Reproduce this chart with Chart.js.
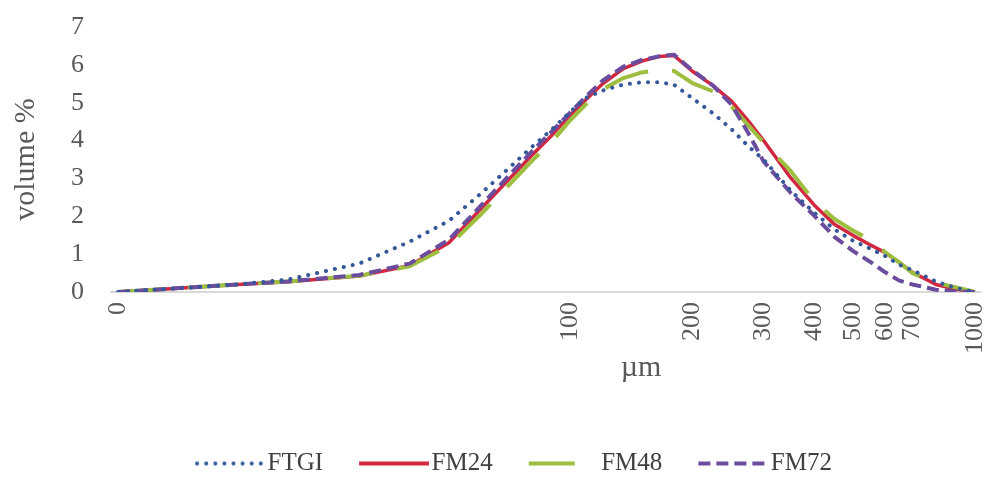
<!DOCTYPE html>
<html>
<head>
<meta charset="utf-8">
<script src="https://cdn.jsdelivr.net/npm/chart.js@4.4.1/dist/chart.umd.min.js"></script>
<style>
html, body { margin: 0; padding: 0; background: #fff; }
</style>
</head>
<body>
<canvas id="chart" width="989" height="479"></canvas>
<script>
// particle size classes (µm), log axis
const sizes = [7.6, 10, 15, 20, 30, 40, 50, 60, 70, 80, 90, 100, 110, 120, 135, 150, 165, 180, 200, 225, 250, 275, 300, 350, 400, 450, 500, 550, 600, 650, 700, 800, 900, 1000];

// volume % per class
const ftgi = [0, 0.08, 0.2, 0.33, 0.75, 1.33, 1.88, 2.6, 3.25, 3.82, 4.3, 4.77, 5.15, 5.32, 5.48, 5.54, 5.54, 5.48, 5.12, 4.72, 4.3, 3.85, 3.5, 2.68, 2.1, 1.65, 1.35, 1.15, 0.95, 0.72, 0.58, 0.28, 0.1, 0];
const fm24 = [0, 0.08, 0.2, 0.27, 0.42, 0.7, 1.3, 2.2, 2.95, 3.6, 4.15, 4.68, 5.12, 5.5, 5.9, 6.1, 6.22, 6.25, 5.83, 5.45, 5.04, 4.52, 4.0, 3.02, 2.3, 1.78, 1.49, 1.25, 1.04, 0.78, 0.52, 0.2, 0.07, 0];
const fm48 = [0, 0.08, 0.2, 0.28, 0.43, 0.68, 1.22, 2.05, 2.8, 3.45, 3.98, 4.55, 5.0, 5.35, 5.65, 5.8, 5.86, 5.84, 5.52, 5.3, 4.9, 4.4, 3.95, 3.2, 2.4, 1.92, 1.62, 1.38, 1.05, 0.78, 0.5, 0.25, 0.12, 0];
const fm72 = [0, 0.08, 0.2, 0.28, 0.45, 0.75, 1.38, 2.28, 3.05, 3.7, 4.25, 4.75, 5.2, 5.58, 5.95, 6.13, 6.22, 6.27, 5.86, 5.45, 4.95, 4.2, 3.45, 2.62, 2.02, 1.45, 1.08, 0.8, 0.52, 0.3, 0.2, 0.06, 0.01, 0];

const tickValues = [7.6, 100, 200, 300, 400, 500, 600, 700, 1000];
const tickLabels = ['0', '100', '200', '300', '400', '500', '600', '700', '1000'];

function points(vals) {
    return sizes.map((s, i) => ({ x: s, y: vals[i] }));
}

// little canvas used as the legend symbol, so the dash pattern shows
function legendSymbol(color, width, dash, cap) {
    const c = document.createElement('canvas');
    c.width = 110;
    c.height = 10;
    const g = c.getContext('2d');
    g.strokeStyle = color;
    g.lineWidth = width;
    g.lineCap = cap;
    g.setLineDash(dash);
    g.beginPath();
    g.moveTo(cap === 'round' ? 42 : 40, 5);
    g.lineTo(cap === 'round' ? 108 : 110, 5);
    g.stroke();
    return c;
}

const grey = '#595959';
const serif = '"Liberation Serif", "Times New Roman", serif';

// x title sits right of centre in the original, so draw it by hand
const xTitle = {
    id: 'xTitle',
    afterDraw(chart) {
        const ctx = chart.ctx;
        const a = chart.chartArea;
        ctx.save();
        ctx.font = '30px ' + serif;
        ctx.fillStyle = grey;
        ctx.textAlign = 'center';
        ctx.textBaseline = 'middle';
        ctx.fillText('µm', a.left + (a.right - a.left) * 0.61, a.bottom + 76);
        ctx.restore();
    }
};

new Chart(document.getElementById('chart'), {
    type: 'line',
    data: {
        datasets: [
            {
                label: 'FTGI',
                data: points(ftgi),
                borderColor: '#34589A',
                borderWidth: 4,
                borderDash: [0.1, 9],
                borderCapStyle: 'round',
                pointStyle: legendSymbol('#34589A', 4, [0.1, 9], 'round'),
                order: 0
            },
            {
                label: 'FM24',
                data: points(fm24),
                borderColor: '#D1283F',
                borderWidth: 3.5,
                pointStyle: legendSymbol('#D1283F', 4, [], 'butt'),
                order: 3
            },
            {
                label: 'FM48',
                data: points(fm48),
                borderColor: '#9DBE3E',
                borderWidth: 4,
                borderDash: [46, 24],
                pointStyle: legendSymbol('#9DBE3E', 4, [46, 24], 'butt'),
                order: 2
            },
            {
                label: 'FM72',
                data: points(fm72),
                borderColor: '#6B4C9E',
                borderWidth: 4,
                borderDash: [12, 6],
                pointStyle: legendSymbol('#6B4C9E', 4, [12, 6], 'butt'),
                order: 1
            }
        ]
    },
    options: {
        responsive: false,
        animation: false,
        layout: { padding: { left: 8, top: 0, right: 0, bottom: -7 } },
        elements: {
            point: { radius: 0 },
            line: { tension: 0, fill: false, borderJoinStyle: 'round' }
        },
        plugins: {
            tooltip: { enabled: false },
            legend: {
                position: 'bottom',
                labels: {
                    usePointStyle: true,
                    pointStyleWidth: 90,
                    boxHeight: 25,
                    padding: 6,
                    color: '#404040',
                    font: { family: serif, size: 25 },
                    sort: (a, b) => a.datasetIndex - b.datasetIndex
                }
            }
        },
        scales: {
            x: {
                type: 'logarithmic',
                min: 7.3,
                max: 1029,
                afterBuildTicks: scale => {
                    scale.ticks = tickValues.map(v => ({ value: v }));
                },
                afterFit: scale => {
                    scale.paddingLeft = 0;
                    scale.paddingRight = 9;
                },
                grid: { display: false, drawTicks: false },
                border: { display: true, color: '#d9d9d9', width: 2 },
                ticks: {
                    autoSkip: false,
                    minRotation: 90,
                    maxRotation: 90,
                    padding: 10,
                    color: grey,
                    font: { family: serif, size: 26 },
                    callback: (v, i) => tickLabels[i]
                },
                title: {
                    display: true,
                    text: '',
                    font: { family: serif, size: 30 },
                    padding: { top: 0, bottom: 45 }
                }
            },
            y: {
                min: 0,
                max: 7,
                afterFit: scale => {
                    scale.paddingTop = 27;
                    scale.paddingBottom = 0;
                },
                grid: { display: false, drawTicks: false },
                border: { display: false },
                ticks: {
                    stepSize: 1,
                    autoSkip: false,
                    padding: 27,
                    color: grey,
                    font: { family: serif, size: 26 }
                },
                title: {
                    display: true,
                    text: 'volume %',
                    color: grey,
                    font: { family: serif, size: 30 },
                    padding: { top: 0, bottom: 0 }
                }
            }
        }
    },
    plugins: [xTitle]
});
</script>
</body>
</html>
